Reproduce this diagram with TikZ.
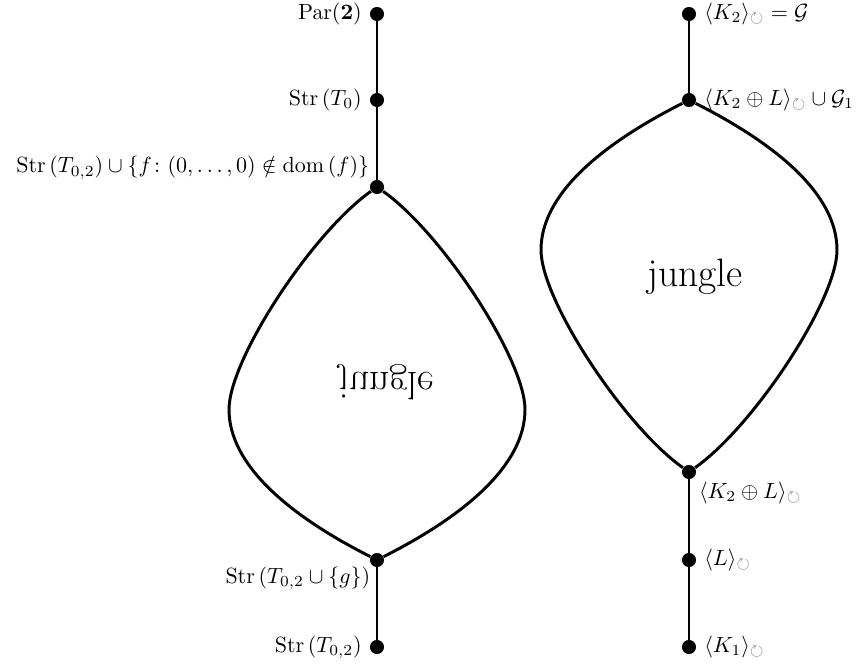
\documentclass[tikz,border=0pt]{standalone}
\usepackage{amsmath,amssymb}
\newcommand{\cyc}{{\color{gray}\circlearrowright}}
\begin{document}
\begin{tikzpicture}[x=0.4545pt,y=-0.4545pt,
  dot/.style={circle,fill=black,inner sep=0pt,minimum size=6.4pt},
  edge/.style={line width=1.35pt},
  big/.style={font=\fontsize{18}{20}\selectfont}]
\useasboundingbox (0,0) rectangle (856,668);
% left column
\node[dot,label=left:{$\operatorname{Par}(\mathbf{2})$}] (a1) at (377,14) {};
\node[dot,label=left:{$\operatorname{Str}\left(T_0\right)$}] (a2) at (377,100) {};
\node[dot,label={[inner sep=1pt]above left:{$\operatorname{Str}\left(T_{0,2}\right)\cup\left\{f\colon(0,\ldots,0)\notin\operatorname{dom}\left(f\right)\right\}$}}] (a3) at (377,187) {};
\node[dot,label={[inner sep=0.5pt]below left:{$\operatorname{Str}\left(T_{0,2}\cup\{g\}\right)$}}] (a4) at (377,560) {};
\node[dot,label=left:{$\operatorname{Str}\left(T_{0,2}\right)$}] (a5) at (377,647) {};
\coordinate (al) at (229,409.5);
\coordinate (ar) at (525,409.5);
\draw[edge] (a1) -- (a2) -- (a3);
\draw[edge] (a4) -- (a5);
\draw[edge] (a4) .. controls +(89,-45) and +(0,55) .. (ar)
  .. controls +(0,-50) and +(65,46) .. (a3);
\draw[edge] (a4) .. controls +(-89,-45) and +(0,55) .. (al)
  .. controls +(0,-50) and +(-65,46) .. (a3);
\node[big,yscale=-1] (j1) at (386,382) {jungle};
% right column
\node[dot,label=right:{$\langle K_2\rangle_{\cyc}=\mathcal{G}$}] (b1) at (689,14) {};
\node[dot,label=right:{$\langle K_2\oplus L\rangle_{\cyc}\cup\mathcal{G}_1$}] (b2) at (689,100) {};
\node[dot,label={[inner sep=2pt]below right:{$\langle K_2\oplus L\rangle_{\cyc}$}}] (b3) at (689,472) {};
\node[dot,label=right:{$\langle L\rangle_{\cyc}$}] (b4) at (689,560) {};
\node[dot,label=right:{$\langle K_1\rangle_{\cyc}$}] (b5) at (689,647) {};
\coordinate (bl) at (541,250);
\coordinate (br) at (837,250);
\draw[edge] (b1) -- (b2);
\draw[edge] (b3) -- (b4) -- (b5);
\draw[edge] (b2) .. controls +(-89,45) and +(0,-55) .. (bl)
  .. controls +(0,50) and +(-65,-46) .. (b3);
\draw[edge] (b2) .. controls +(89,45) and +(0,-55) .. (br)
  .. controls +(0,50) and +(65,-46) .. (b3);
\node[big] (j2) at (695,277) {jungle};
\end{tikzpicture}
\end{document}
